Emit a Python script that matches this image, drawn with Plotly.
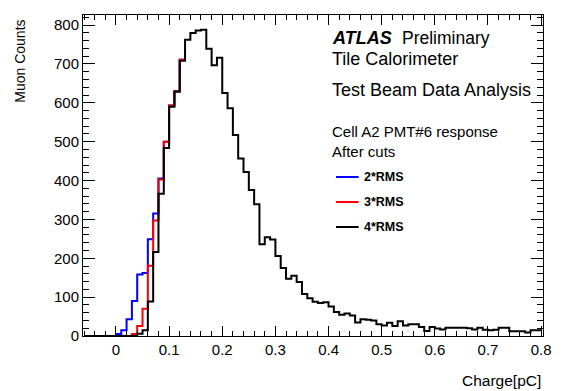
import numpy as np
import plotly.graph_objects as go

# ---- data (bin lower edges in pC, width 0.01) ----
bin_lo = np.round(np.arange(-0.06, 0.7951, 0.01), 2)   # 86 bins
bin_width = 0.01

counts_4rms = [0, 0, 0, 0, 0, 0,          # -0.06 .. -0.01
               0, 0, 0, 0, 6, 15, 89, 216, 366, 484,
               590, 629, 708, 762, 780, 786, 788, 739, 697, 716,
               625, 586, 517, 457, 422, 376, 339, 236, 254, 248,
               206, 175, 147, 155, 139, 108, 97, 88, 85, 87,
               76, 62, 55, 58, 53, 35, 43, 42, 40, 30,
               27, 34, 26, 38, 27, 30, 30, 23, 13, 23,
               19, 17, 21, 21, 21, 21, 20, 17, 21, 16,
               15, 16, 21, 21, 12, 12, 12, 9, 15, 15]

counts_3rms = [0, 0, 0, 0, 0, 0,
               0, 0, 0, 5, 26, 70, 181, 297, 403, 500,
               593, 629, 711] + counts_4rms[19:]

counts_2rms = [0, 0, 0, 0, 0, 0,
               5, 15, 43, 90, 158, 162, 249, 315, 405, 500,
               593, 629, 711] + counts_4rms[19:]

series = [("2*RMS", counts_2rms, "#0000ff"),
          ("3*RMS", counts_3rms, "#ff0000"),
          ("4*RMS", counts_4rms, "#000000")]

# ---- figure ----
W, H = 564, 391
ML, MR, MT, MB = 83, 12, 15, 55
pw, ph = W - ML - MR, H - MT - MB

def px(x):
    return (x - ML) / pw

def py(y):
    return (H - MB - y) / ph

FONT = "Liberation Sans, Arial, Helvetica, sans-serif"

fig = go.Figure()
edges = np.append(bin_lo, bin_lo[-1] + bin_width)
black = np.array(counts_4rms)
for name, vals, col in series:
    vals = np.array(vals)
    if col != "#000000":
        # draw coloured histograms only where they differ from the black one
        diff = np.nonzero(vals != black)[0]
        n = diff.max() + 1
    else:
        n = len(vals)
    xv = edges[:n + 1]
    yv = list(vals[:n]) + [vals[n - 1]]
    fig.add_trace(go.Scatter(x=xv, y=yv, mode="lines", name=name,
                             line=dict(color=col, width=2, shape="hv"),
                             showlegend=False, hoverinfo="skip"))

axis_common = dict(showline=True, linecolor="black", linewidth=1, mirror="ticks",
                   ticks="inside", tickcolor="black", showgrid=False, zeroline=False,
                   tickfont=dict(family=FONT, size=15, color="black"))

fig.update_xaxes(range=[-0.062, 0.8035], tick0=0, dtick=0.1, ticklen=10, tickwidth=1,
                 minor=dict(dtick=0.02, tick0=0, ticks="inside", ticklen=5,
                            tickcolor="black", showgrid=False),
                 **axis_common)
fig.update_yaxes(range=[0, 826], tick0=0, dtick=100, ticklen=12, tickwidth=1,
                 minor=dict(dtick=20, tick0=0, ticks="inside", ticklen=6,
                            tickcolor="black", showgrid=False),
                 **axis_common)

ann = []
def text(x, y, s, size, **kw):
    d = dict(x=px(x), y=py(y), xref="paper", yref="paper", text=s, showarrow=False,
             font=dict(family=FONT, size=size, color="black"),
             xanchor="left", yanchor="middle")
    d.update(kw)
    ann.append(d)

text(335, 38, "<b><i>ATLAS</i></b>", 18)
text(406, 38, "Preliminary", 17.5)
text(335, 59, "Tile Calorimeter", 18)
text(335, 90, "Test Beam Data Analysis", 18)
text(335, 131, "Cell A2 PMT#6 response", 15)
text(335, 151, "After cuts", 15)

shapes = []
for i, (name, vals, col) in enumerate(series):
    yy = 177 + 25 * i
    shapes.append(dict(type="line", xref="paper", yref="paper",
                       x0=px(341), x1=px(364), y0=py(yy), y1=py(yy),
                       line=dict(color=col, width=2)))
    text(367, yy, "<b>" + name + "</b>", 12.5)

text(552, 381, "Charge[pC]", 15.5, xanchor="right")
text(18, 18, "Muon Counts", 14, xanchor="center", yanchor="top", textangle=-90)

fig.update_layout(width=W, height=H, margin=dict(l=ML, r=MR, t=MT, b=MB),
                  paper_bgcolor="white", plot_bgcolor="white",
                  annotations=ann, shapes=shapes, showlegend=False)

fig.write_html("out.html")
